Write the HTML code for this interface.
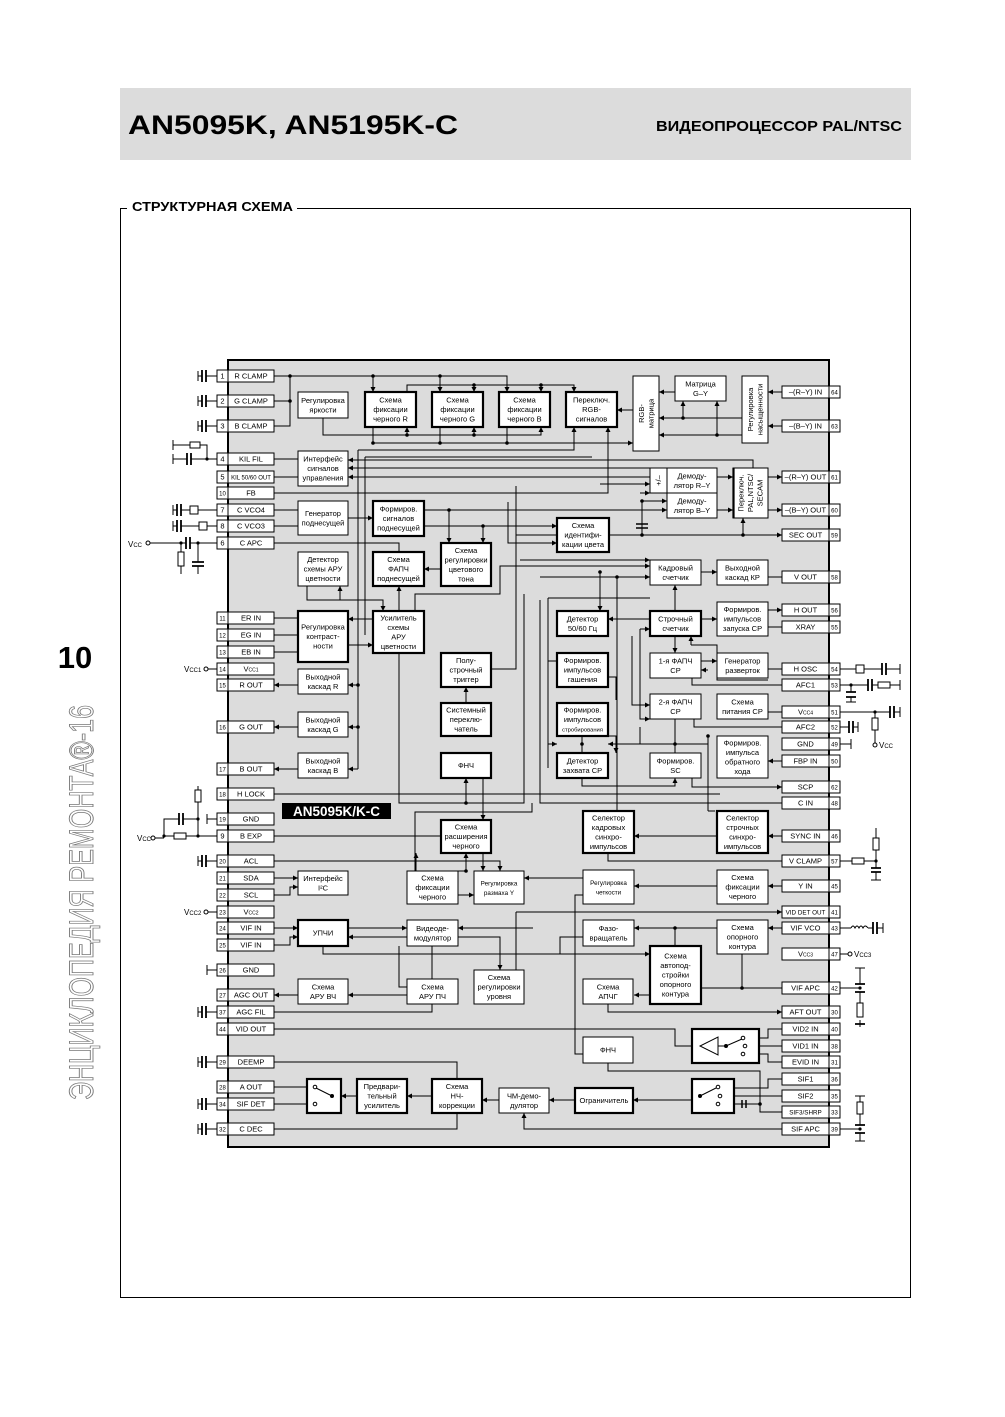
<!DOCTYPE html>
<html><head><meta charset="utf-8"><style>
html,body{margin:0;padding:0;background:#fff}
svg{display:block}
text{font-family:"Liberation Sans",sans-serif;font-size:7.5px;text-anchor:middle;fill:#000}
.b{fill:#fff;stroke:#000;stroke-width:1}
.t{fill:#fff;stroke:#000;stroke-width:2.2}
.w{fill:none;stroke:#000;stroke-width:1}
.p{fill:#fff;stroke:#000;stroke-width:1}
.pl{font-size:7px}
.c{fill:none;stroke:#000;stroke-width:2}
</style></head><body>
<svg width="1005" height="1417" viewBox="0 0 1005 1417" xmlns="http://www.w3.org/2000/svg">
<defs>
<marker id="a" markerWidth="6" markerHeight="6" refX="5" refY="3" orient="auto" markerUnits="userSpaceOnUse"><path d="M0,0.5 L5,3 L0,5.5z" fill="#000"/></marker>
</defs>
<rect x="120" y="88" width="791" height="72" fill="#dcdcdc"/>
<text x="128" y="134" style="font-size:27px;font-weight:bold;text-anchor:start" textLength="330" lengthAdjust="spacingAndGlyphs">AN5095K, AN5195K-C</text>
<text x="902" y="131" style="font-size:15px;font-weight:bold;text-anchor:end" textLength="246" lengthAdjust="spacingAndGlyphs">ВИДЕОПРОЦЕССОР PAL/NTSC</text>
<rect x="120.5" y="208.5" width="790" height="1089" fill="none" stroke="#000" stroke-width="1"/>
<rect x="127" y="196" width="170" height="18" fill="#fff"/>
<text x="132" y="211" style="font-size:13px;font-weight:bold;text-anchor:start" textLength="161" lengthAdjust="spacingAndGlyphs">СТРУКТУРНАЯ СХЕМА</text>
<text x="75" y="668" style="font-size:31px;font-weight:bold">10</text>
<text transform="translate(93,1100) rotate(-90)" style="font-size:34px;text-anchor:start;fill:none;stroke:#777;stroke-width:0.9" textLength="395" lengthAdjust="spacingAndGlyphs">ЭНЦИКЛОПЕДИЯ РЕМОНТА®-16</text>

<rect x="228" y="360" width="601" height="787" fill="#dcdcdc" stroke="#000" stroke-width="2"/>

<g class="w">
<path d="M274 376H507V392" marker-end="url(#a)"/>
<path d="M373 376V392" marker-end="url(#a)"/>
<path d="M440 376V392" marker-end="url(#a)"/>
<path d="M274 401H290M274 426H290V376"/>
<path d="M407 392V385H574V392" marker-end="url(#a)"/>
<path d="M474 385V392" marker-end="url(#a)"/>
<path d="M541 385V392" marker-end="url(#a)"/>
<path d="M323 418V435H541V427" marker-end="url(#a)"/>
<path d="M407 435V427" marker-end="url(#a)"/>
<path d="M474 435V427" marker-end="url(#a)"/>
<path d="M373 427V443H633" marker-end="url(#a)"/>
<path d="M440 427V443M507 427V443"/>
<path d="M633 410H617" marker-end="url(#a)"/>
<path d="M675 392H659" marker-end="url(#a)"/>
<path d="M742 418H659" marker-end="url(#a)"/>
<path d="M742 435H659" marker-end="url(#a)"/>
<path d="M683 418V401" marker-end="url(#a)"/>
<path d="M717 435V401" marker-end="url(#a)"/>
<path d="M782 392H768" marker-end="url(#a)"/>
<path d="M782 426H768" marker-end="url(#a)"/>
<path d="M358 450H574V427" marker-end="url(#a)"/>
<path d="M365 457H592"/>
<path d="M650 460H348" marker-end="url(#a)"/>
<path d="M650 468H348" marker-end="url(#a)"/>
<path d="M650 477H348" marker-end="url(#a)"/>
<path d="M753 468V460H650"/>
<path d="M274 459H298M274 477H298"/>
<path d="M274 493H608V427" marker-end="url(#a)"/>
<path d="M600 484H650" marker-end="url(#a)"/>
<path d="M640 493H650" marker-end="url(#a)"/>
<path d="M274 510H298M274 526H298"/>
<path d="M348 518H373" marker-end="url(#a)"/>
<path d="M424 510H449V543" marker-end="url(#a)"/>
<path d="M449 510H667" marker-end="url(#a)"/>
<path d="M424 526H483V543" marker-end="url(#a)"/>
<path d="M483 526H557" marker-end="url(#a)"/>
<path d="M516 486V535H557"/>
<path d="M508 502V543H557" marker-end="url(#a)"/>
<path d="M609 535H782" marker-end="url(#a)"/>
<path d="M743 535V518" marker-end="url(#a)"/>
<path d="M642 501V535M642 501H667" marker-end="url(#a)"/>
<path d="M717 477H733" marker-end="url(#a)"/>
<path d="M717 510H733" marker-end="url(#a)"/>
<path d="M768 477H782" marker-end="url(#a)"/>
<path d="M768 510H782" marker-end="url(#a)"/>
<path d="M274 543H399V552"/>
<path d="M441 569H424" marker-end="url(#a)"/>
<path d="M307 586V600H383V611" marker-end="url(#a)"/>
<path d="M340 600V586" marker-end="url(#a)"/>
<path d="M399 611V586" marker-end="url(#a)"/>
<path d="M415 611V594H500V566H650" marker-end="url(#a)"/>
<path d="M274 618H298M274 635H298M274 652H298"/>
<path d="M373 619H348" marker-end="url(#a)"/>
<path d="M348 645H373" marker-end="url(#a)"/>
<path d="M358 450V769"/>
<path d="M365 457V635"/>
<path d="M358 685H348" marker-end="url(#a)"/>
<path d="M358 727H348" marker-end="url(#a)"/>
<path d="M358 769H348" marker-end="url(#a)"/>
<path d="M298 685H274" marker-end="url(#a)"/>
<path d="M298 727H274" marker-end="url(#a)"/>
<path d="M298 769H274" marker-end="url(#a)"/>
<path d="M399 653V803H524V594"/>
<path d="M491 669H516V486"/>
<path d="M466 703V687" marker-end="url(#a)"/>
<path d="M466 803V778" marker-end="url(#a)"/>
<path d="M483 778V820" marker-end="url(#a)"/>
<path d="M274 794H720"/>
<path d="M274 836H441"/>
<path d="M274 861H500V871" marker-end="url(#a)"/>
<path d="M416 871V853" marker-end="url(#a)"/>
<path d="M466 871V853" marker-end="url(#a)"/>
<path d="M483 853V871" marker-end="url(#a)"/>
<path d="M458 871H466"/>
<path d="M458 895H474" marker-end="url(#a)"/>
<path d="M415 871V812H532V803"/>
<path d="M274 878H298" marker-end="url(#a)"/>
<path d="M274 895H290V887H298" marker-end="url(#a)"/>
<path d="M274 928H298" marker-end="url(#a)"/>
<path d="M274 945H290V937H298" marker-end="url(#a)"/>
<path d="M348 928H407" marker-end="url(#a)"/>
<path d="M407 937H348" marker-end="url(#a)"/>
<path d="M323 946V954H583"/>
<path d="M458 937H500V970" marker-end="url(#a)"/>
<path d="M516 912V970"/>
<path d="M516 912H782" marker-end="url(#a)"/>
<path d="M533 928H458" marker-end="url(#a)"/>
<path d="M432 946V979"/>
<path d="M399 946V987H407"/>
<path d="M407 995H348" marker-end="url(#a)"/>
<path d="M298 995H274" marker-end="url(#a)"/>
<path d="M274 1012H432V1004"/>
<path d="M274 1029H675V1046H692"/>
<path d="M274 1062H457V1079"/>
<path d="M274 1087H313"/>
<path d="M274 1104H313" marker-end="url(#a)"/>
<path d="M357 1096H341" marker-end="url(#a)"/>
<path d="M432 1096H407" marker-end="url(#a)"/>
<path d="M499 1100H482" marker-end="url(#a)"/>
<path d="M575 1100H549" marker-end="url(#a)"/>
<path d="M692 1100H633" marker-end="url(#a)"/>
<path d="M274 1129H457V1113"/>
<path d="M782 1129H524V1113" marker-end="url(#a)"/>
<path d="M520 560H650" marker-end="url(#a)"/>
<path d="M540 577H650" marker-end="url(#a)"/>
<path d="M600 572V611" marker-end="url(#a)"/>
<path d="M617 577V836"/>
<path d="M701 572H717" marker-end="url(#a)"/>
<path d="M768 577H782"/>
<path d="M675 611V585" marker-end="url(#a)"/>
<path d="M650 619H608" marker-end="url(#a)"/>
<path d="M640 629H650" marker-end="url(#a)"/>
<path d="M701 619H717" marker-end="url(#a)"/>
<path d="M768 610H782" marker-end="url(#a)"/>
<path d="M768 627H782"/>
<path d="M675 636V653" marker-end="url(#a)"/>
<path d="M691 645V636" marker-end="url(#a)"/>
<path d="M691 645H717V680H768"/>
<path d="M701 661H717" marker-end="url(#a)"/>
<path d="M768 669H782"/>
<path d="M708 670H701" marker-end="url(#a)"/>
<path d="M692 678V685H782"/>
<path d="M640 629V719H650" marker-end="url(#a)"/>
<path d="M632 636V705H650" marker-end="url(#a)"/>
<path d="M768 712H782"/>
<path d="M694 719V727H782"/>
<path d="M675 719V744"/>
<path d="M625 744H708V736"/>
<path d="M608 736H616V753" marker-end="url(#a)"/>
<path d="M640 727V744H608" marker-end="url(#a)"/>
<path d="M582 736V753"/>
<path d="M548 669V768"/>
<path d="M548 598V744H557" marker-end="url(#a)"/>
<path d="M548 598H650"/>
<path d="M557 661H548"/>
<path d="M608 677H616V700"/>
<path d="M675 744V753"/>
<path d="M782 761H768" marker-end="url(#a)"/>
<path d="M692 778V787H782" marker-end="url(#a)"/>
<path d="M582 778V786H675V778" marker-end="url(#a)"/>
<path d="M782 803H540V600"/>
<path d="M782 836H768" marker-end="url(#a)"/>
<path d="M717 836H634" marker-end="url(#a)"/>
<path d="M708 811V736"/>
<path d="M715 811H708"/>
<path d="M782 861H608V853"/>
<path d="M782 886H768" marker-end="url(#a)"/>
<path d="M717 886H634" marker-end="url(#a)"/>
<path d="M583 878H524" marker-end="url(#a)"/>
<path d="M583 895H575V1054H583"/>
<path d="M782 928H768" marker-end="url(#a)"/>
<path d="M675 928V946"/>
<path d="M717 928H634" marker-end="url(#a)"/>
<path d="M583 937H560V954"/>
<path d="M560 954H650" marker-end="url(#a)"/>
<path d="M742 954V988"/>
<path d="M782 988H701"/>
<path d="M650 995H634" marker-end="url(#a)"/>
<path d="M608 1004V1012H782" marker-end="url(#a)"/>
<path d="M608 1063V1071H760V1112H782"/>
<path d="M782 1029H768V1038H745"/>
<path d="M782 1046H745"/>
<path d="M782 1062H768V1054H745"/>
<path d="M782 1079H768V1088H720"/>
<path d="M782 1096H722"/>
<path d="M760 1104H720"/>
</g>
<g fill="#000">
<circle cx="290" cy="376" r="1.8"/><circle cx="290" cy="401" r="1.8"/><circle cx="373" cy="376" r="1.8"/><circle cx="440" cy="376" r="1.8"/>
<circle cx="474" cy="385" r="1.8"/><circle cx="541" cy="385" r="1.8"/><circle cx="407" cy="435" r="1.8"/><circle cx="474" cy="435" r="1.8"/>
<circle cx="373" cy="443" r="1.8"/><circle cx="440" cy="443" r="1.8"/><circle cx="507" cy="443" r="1.8"/><circle cx="683" cy="418" r="1.8"/><circle cx="717" cy="435" r="1.8"/>
<circle cx="449" cy="510" r="1.8"/><circle cx="483" cy="526" r="1.8"/><circle cx="743" cy="535" r="1.8"/><circle cx="642" cy="535" r="1.8"/><circle cx="642" cy="501" r="1.8"/>
<circle cx="358" cy="685" r="1.8"/><circle cx="358" cy="727" r="1.8"/><circle cx="466" cy="803" r="1.8"/><circle cx="466" cy="871" r="1.8"/>
<circle cx="600" cy="572" r="1.8"/><circle cx="617" cy="577" r="1.8"/><circle cx="675" cy="744" r="1.8"/><circle cx="582" cy="744" r="1.8"/><circle cx="708" cy="736" r="1.8"/>
<circle cx="675" cy="928" r="1.8"/><circle cx="742" cy="988" r="1.8"/><circle cx="760" cy="1104" r="1.8"/>
</g>
<path d="M636 524H648M636 528H648" stroke="#000" stroke-width="1.5"/>
<path d="M742 1100V1108M746 1100V1108" stroke="#000" stroke-width="1.5"/>

<rect class="b" x="298" y="392" width="50" height="26"/><text><tspan x="323" y="403">Регулировка</tspan><tspan x="323" y="412.5">яркости</tspan></text>
<rect class="t" x="365" y="392" width="51" height="35"/><text><tspan x="390.5" y="402.7">Схема</tspan><tspan x="390.5" y="412.2">фиксации</tspan><tspan x="390.5" y="421.7">черного R</tspan></text>
<rect class="t" x="432" y="392" width="51" height="35"/><text><tspan x="457.5" y="402.7">Схема</tspan><tspan x="457.5" y="412.2">фиксации</tspan><tspan x="457.5" y="421.7">черного G</tspan></text>
<rect class="t" x="499" y="392" width="51" height="35"/><text><tspan x="524.5" y="402.7">Схема</tspan><tspan x="524.5" y="412.2">фиксации</tspan><tspan x="524.5" y="421.7">черного B</tspan></text>
<rect class="t" x="566" y="392" width="51" height="35"/><text><tspan x="591.5" y="402.7">Переключ.</tspan><tspan x="591.5" y="412.2">RGB-</tspan><tspan x="591.5" y="421.7">сигналов</tspan></text>
<rect class="b" x="633" y="376" width="26" height="75"/><text transform="rotate(-90 646 413.5)"><tspan x="646" y="411.5">RGB-</tspan><tspan x="646" y="421">матрица</tspan></text>
<rect class="b" x="675" y="376" width="51" height="25"/><text><tspan x="700.5" y="386.5">Матрица</tspan><tspan x="700.5" y="396">G–Y</tspan></text>
<rect class="b" x="742" y="376" width="26" height="67"/><text transform="rotate(-90 755 409.5)"><tspan x="755" y="407.5">Регулировка</tspan><tspan x="755" y="417">насыщенности</tspan></text>
<rect class="b" x="298" y="451" width="50" height="35"/><text><tspan x="323" y="461.7">Интерфейс</tspan><tspan x="323" y="471.2">сигналов</tspan><tspan x="323" y="480.7">управления</tspan></text>
<rect class="b" x="298" y="501" width="50" height="34"/><text><tspan x="323" y="516">Генератор</tspan><tspan x="323" y="525.5">поднесущей</tspan></text>
<rect class="t" x="373" y="501" width="51" height="35"/><text><tspan x="398.5" y="511.7">Формиров.</tspan><tspan x="398.5" y="521.2">сигналов</tspan><tspan x="398.5" y="530.7">поднесущей</tspan></text>
<rect class="b" x="298" y="552" width="50" height="34"/><text><tspan x="323" y="562.2">Детектор</tspan><tspan x="323" y="571.7">схемы АРУ</tspan><tspan x="323" y="581.2">цветности</tspan></text>
<rect class="t" x="373" y="552" width="51" height="34"/><text><tspan x="398.5" y="562.2">Схема</tspan><tspan x="398.5" y="571.7">ФАПЧ</tspan><tspan x="398.5" y="581.2">поднесущей</tspan></text>
<rect class="t" x="441" y="543" width="50" height="43"/><text><tspan x="466" y="553">Схема</tspan><tspan x="466" y="562.5">регулировки</tspan><tspan x="466" y="572">цветового</tspan><tspan x="466" y="581.5">тона</tspan></text>
<rect class="t" x="298" y="611" width="50" height="51"/><text><tspan x="323" y="629.7">Регулировка</tspan><tspan x="323" y="639.2">контраст-</tspan><tspan x="323" y="648.7">ности</tspan></text>
<rect class="t" x="373" y="611" width="51" height="42"/><text><tspan x="398.5" y="620.5">Усилитель</tspan><tspan x="398.5" y="630">схемы</tspan><tspan x="398.5" y="639.5">АРУ</tspan><tspan x="398.5" y="649">цветности</tspan></text>
<rect class="t" x="441" y="653" width="50" height="34"/><text><tspan x="466" y="663.2">Полу-</tspan><tspan x="466" y="672.7">строчный</tspan><tspan x="466" y="682.2">триггер</tspan></text>
<rect class="b" x="298" y="669" width="50" height="25"/><text><tspan x="323" y="679.5">Выходной</tspan><tspan x="323" y="689">каскад R</tspan></text>
<rect class="b" x="298" y="712" width="50" height="25"/><text><tspan x="323" y="722.5">Выходной</tspan><tspan x="323" y="732">каскад G</tspan></text>
<rect class="b" x="298" y="753" width="50" height="25"/><text><tspan x="323" y="763.5">Выходной</tspan><tspan x="323" y="773">каскад B</tspan></text>
<rect class="t" x="441" y="703" width="50" height="33"/><text><tspan x="466" y="712.7">Системный</tspan><tspan x="466" y="722.2">переклю-</tspan><tspan x="466" y="731.7">чатель</tspan></text>
<rect class="t" x="441" y="753" width="50" height="25"/><text x="466" y="768.2">ФНЧ</text>
<rect x="282" y="803" width="109" height="16" fill="#000"/><text x="336.5" y="816" style="font-size:13.5px;font-weight:bold;fill:#fff">AN5095K/K-C</text>
<rect class="t" x="441" y="820" width="50" height="33"/><text><tspan x="466" y="829.7">Схема</tspan><tspan x="466" y="839.2">расширения</tspan><tspan x="466" y="848.7">черного</tspan></text>
<rect class="b" x="298" y="871" width="50" height="24"/><text><tspan x="323" y="881">Интерфейс</tspan><tspan x="323" y="890.5">I²C</tspan></text>
<rect class="b" x="407" y="871" width="51" height="33"/><text><tspan x="432.5" y="880.7">Схема</tspan><tspan x="432.5" y="890.2">фиксации</tspan><tspan x="432.5" y="899.7">черного</tspan></text>
<rect class="b" x="474" y="871" width="50" height="33"/><text style="font-size:6.3px"><tspan x="499" y="885.5">Регулировка</tspan><tspan x="499" y="895">размаха Y</tspan></text>
<rect class="t" x="298" y="920" width="50" height="26"/><text x="323" y="935.7">УПЧИ</text>
<rect class="b" x="407" y="920" width="51" height="26"/><text><tspan x="432.5" y="931">Видеоде-</tspan><tspan x="432.5" y="940.5">модулятор</tspan></text>
<rect class="b" x="474" y="970" width="50" height="34"/><text><tspan x="499" y="980.2">Схема</tspan><tspan x="499" y="989.7">регулировки</tspan><tspan x="499" y="999.2">уровня</tspan></text>
<rect class="b" x="298" y="979" width="50" height="25"/><text><tspan x="323" y="989.5">Схема</tspan><tspan x="323" y="999">АРУ ВЧ</tspan></text>
<rect class="b" x="407" y="979" width="51" height="25"/><text><tspan x="432.5" y="989.5">Схема</tspan><tspan x="432.5" y="999">АРУ ПЧ</tspan></text>
<rect class="t" x="307" y="1079" width="34" height="34"/>
<g class="w"><circle cx="315" cy="1087" r="1.8"/><circle cx="315" cy="1104" r="1.8"/><path d="M316 1088L332 1096"/></g><circle cx="332" cy="1096" r="2" fill="#000"/>
<rect class="t" x="357" y="1079" width="50" height="34"/><text><tspan x="382" y="1089.2">Предвари-</tspan><tspan x="382" y="1098.7">тельный</tspan><tspan x="382" y="1108.2">усилитель</tspan></text>
<rect class="t" x="432" y="1079" width="50" height="34"/><text><tspan x="457" y="1089.2">Схема</tspan><tspan x="457" y="1098.7">НЧ-</tspan><tspan x="457" y="1108.2">коррекции</tspan></text>
<rect class="b" x="499" y="1088" width="50" height="25"/><text><tspan x="524" y="1098.5">ЧМ-демо-</tspan><tspan x="524" y="1108">дулятор</tspan></text>
<rect class="t" x="575" y="1088" width="58" height="25"/><text x="604" y="1103.2">Ограничитель</text>
<rect class="t" x="692" y="1079" width="42" height="34"/>
<g class="w"><circle cx="718" cy="1087" r="1.8"/><circle cx="720" cy="1096" r="1.8"/><circle cx="718" cy="1104" r="1.8"/><path d="M700 1096L716 1088"/></g><circle cx="700" cy="1096" r="2" fill="#000"/>
<rect class="t" x="692" y="1029" width="67" height="34"/>
<g class="w"><path d="M718 1037V1055L700 1046Z"/><path d="M718 1046H726L742 1039"/><circle cx="743" cy="1038" r="1.8"/><circle cx="745" cy="1046" r="1.8"/><circle cx="743" cy="1054" r="1.8"/></g><circle cx="726" cy="1046" r="2" fill="#000"/>
<rect class="b" x="583" y="1037" width="50" height="26"/><text x="608" y="1052.7">ФНЧ</text>
<rect class="b" x="583" y="979" width="50" height="25"/><text><tspan x="608" y="989.5">Схема</tspan><tspan x="608" y="999">АПЧГ</tspan></text>
<rect class="t" x="650" y="946" width="51" height="58"/><text><tspan x="675.5" y="958.7">Схема</tspan><tspan x="675.5" y="968.2">автопод-</tspan><tspan x="675.5" y="977.7">стройки</tspan><tspan x="675.5" y="987.2">опорного</tspan><tspan x="675.5" y="996.7">контура</tspan></text>
<rect class="b" x="583" y="920" width="51" height="26"/><text><tspan x="608.5" y="931">Фазо-</tspan><tspan x="608.5" y="940.5">вращатель</tspan></text>
<rect class="b" x="717" y="920" width="51" height="34"/><text><tspan x="742.5" y="930.2">Схема</tspan><tspan x="742.5" y="939.7">опорного</tspan><tspan x="742.5" y="949.2">контура</tspan></text>
<rect class="b" x="583" y="870" width="51" height="34"/><text style="font-size:6.3px"><tspan x="608.5" y="885">Регулировка</tspan><tspan x="608.5" y="894.5">четкости</tspan></text>
<rect class="b" x="717" y="870" width="51" height="34"/><text><tspan x="742.5" y="880.2">Схема</tspan><tspan x="742.5" y="889.7">фиксации</tspan><tspan x="742.5" y="899.2">черного</tspan></text>
<rect class="t" x="583" y="811" width="51" height="42"/><text><tspan x="608.5" y="820.5">Селектор</tspan><tspan x="608.5" y="830">кадровых</tspan><tspan x="608.5" y="839.5">синхро-</tspan><tspan x="608.5" y="849">импульсов</tspan></text>
<rect class="t" x="717" y="811" width="51" height="42"/><text><tspan x="742.5" y="820.5">Селектор</tspan><tspan x="742.5" y="830">строчных</tspan><tspan x="742.5" y="839.5">синхро-</tspan><tspan x="742.5" y="849">импульсов</tspan></text>
<rect class="t" x="557" y="753" width="51" height="25"/><text><tspan x="582.5" y="763.5">Детектор</tspan><tspan x="582.5" y="773">захвата СР</tspan></text>
<rect class="b" x="650" y="753" width="51" height="25"/><text><tspan x="675.5" y="763.5">Формиров.</tspan><tspan x="675.5" y="773">SC</tspan></text>
<rect class="b" x="717" y="736" width="51" height="42"/><text><tspan x="742.5" y="745.5">Формиров.</tspan><tspan x="742.5" y="755">импульса</tspan><tspan x="742.5" y="764.5">обратного</tspan><tspan x="742.5" y="774">хода</tspan></text>
<rect class="t" x="557" y="703" width="51" height="33"/><text><tspan x="582.5" y="712.7">Формиров.</tspan><tspan x="582.5" y="722.2">импульсов</tspan><tspan x="582.5" y="731.7" style="font-size:5.8px">стробирования</tspan></text>
<rect class="b" x="650" y="694" width="51" height="25"/><text><tspan x="675.5" y="704.5">2-я ФАПЧ</tspan><tspan x="675.5" y="714">СР</tspan></text>
<rect class="b" x="717" y="694" width="51" height="25"/><text><tspan x="742.5" y="704.5">Схема</tspan><tspan x="742.5" y="714">питания СР</tspan></text>
<rect class="t" x="557" y="518" width="52" height="34"/><text><tspan x="583" y="528.2">Схема</tspan><tspan x="583" y="537.7">идентифи-</tspan><tspan x="583" y="547.2">кации цвета</tspan></text>
<rect class="b" x="650" y="468" width="17" height="25"/><text transform="rotate(-90 658.5 480.5)" x="658.5" y="483.2">+/–</text>
<rect class="b" x="667" y="468" width="50" height="25"/><text><tspan x="692" y="478.5">Демоду-</tspan><tspan x="692" y="488">лятор R–Y</tspan></text>
<rect class="b" x="667" y="493" width="50" height="25"/><text><tspan x="692" y="503.5">Демоду-</tspan><tspan x="692" y="513">лятор B–Y</tspan></text>
<rect class="b" x="733" y="468" width="35" height="50"/><path d="M733.5 468V518" stroke="#000" stroke-width="2.2"/><text transform="rotate(-90 750.5 493)"><tspan x="750.5" y="486.2">Переключ.</tspan><tspan x="750.5" y="495.7">PAL,NTSC/</tspan><tspan x="750.5" y="505.2">SECAM</tspan></text>
<rect class="b" x="650" y="560" width="51" height="25"/><text><tspan x="675.5" y="570.5">Кадровый</tspan><tspan x="675.5" y="580">счетчик</tspan></text>
<rect class="b" x="717" y="560" width="51" height="25"/><text><tspan x="742.5" y="570.5">Выходной</tspan><tspan x="742.5" y="580">каскад КР</tspan></text>
<rect class="t" x="557" y="611" width="51" height="25"/><text><tspan x="582.5" y="621.5">Детектор</tspan><tspan x="582.5" y="631">50/60 Гц</tspan></text>
<rect class="t" x="650" y="611" width="51" height="25"/><text><tspan x="675.5" y="621.5">Строчный</tspan><tspan x="675.5" y="631">счетчик</tspan></text>
<rect class="b" x="717" y="602" width="51" height="34"/><text><tspan x="742.5" y="612.2">Формиров.</tspan><tspan x="742.5" y="621.7">импульсов</tspan><tspan x="742.5" y="631.2">запуска СР</tspan></text>
<rect class="b" x="650" y="653" width="51" height="25"/><text><tspan x="675.5" y="663.5">1-я ФАПЧ</tspan><tspan x="675.5" y="673">СР</tspan></text>
<rect class="b" x="717" y="653" width="51" height="25"/><text><tspan x="742.5" y="663.5">Генератор</tspan><tspan x="742.5" y="673">разверток</tspan></text>
<rect class="t" x="557" y="653" width="51" height="34"/><text><tspan x="582.5" y="663.2">Формиров.</tspan><tspan x="582.5" y="672.7">импульсов</tspan><tspan x="582.5" y="682.2">гашения</tspan></text>

<g class="pl">
<rect class="p" x="217" y="370" width="11" height="12"/><rect class="p" x="228" y="370" width="46" height="12"/><text x="222.5" y="378.5">1</text><text x="251" y="378.5">R CLAMP</text>
<rect class="p" x="217" y="395" width="11" height="12"/><rect class="p" x="228" y="395" width="46" height="12"/><text x="222.5" y="403.5">2</text><text x="251" y="403.5">G CLAMP</text>
<rect class="p" x="217" y="420" width="11" height="12"/><rect class="p" x="228" y="420" width="46" height="12"/><text x="222.5" y="428.5">3</text><text x="251" y="428.5">B CLAMP</text>
<rect class="p" x="217" y="453" width="11" height="12"/><rect class="p" x="228" y="453" width="46" height="12"/><text x="222.5" y="461.5">4</text><text x="251" y="461.5">KIL FIL</text>
<rect class="p" x="217" y="471" width="11" height="12"/><rect class="p" x="228" y="471" width="46" height="12"/><text x="222.5" y="479.5">5</text><text x="251" y="479.5" style="font-size:6px">KIL 50/60 OUT</text>
<rect class="p" x="217" y="487" width="11" height="12"/><rect class="p" x="228" y="487" width="46" height="12"/><text x="222.5" y="495.5" style="font-size:6px">10</text><text x="251" y="495.5">FB</text>
<rect class="p" x="217" y="504" width="11" height="12"/><rect class="p" x="228" y="504" width="46" height="12"/><text x="222.5" y="512.5">7</text><text x="251" y="512.5">C VCO4</text>
<rect class="p" x="217" y="520" width="11" height="12"/><rect class="p" x="228" y="520" width="46" height="12"/><text x="222.5" y="528.5">8</text><text x="251" y="528.5">C VCO3</text>
<rect class="p" x="217" y="537" width="11" height="12"/><rect class="p" x="228" y="537" width="46" height="12"/><text x="222.5" y="545.5">6</text><text x="251" y="545.5">C APC</text>
<rect class="p" x="217" y="612" width="11" height="12"/><rect class="p" x="228" y="612" width="46" height="12"/><text x="222.5" y="620.5" style="font-size:6px">11</text><text x="251" y="620.5">ER IN</text>
<rect class="p" x="217" y="629" width="11" height="12"/><rect class="p" x="228" y="629" width="46" height="12"/><text x="222.5" y="637.5" style="font-size:6px">12</text><text x="251" y="637.5">EG IN</text>
<rect class="p" x="217" y="646" width="11" height="12"/><rect class="p" x="228" y="646" width="46" height="12"/><text x="222.5" y="654.5" style="font-size:6px">13</text><text x="251" y="654.5">EB IN</text>
<rect class="p" x="217" y="663" width="11" height="12"/><rect class="p" x="228" y="663" width="46" height="12"/><text x="222.5" y="671.5" style="font-size:6px">14</text><text x="251" y="671.5">V<tspan style="font-size:5px">CC1</tspan></text>
<rect class="p" x="217" y="679" width="11" height="12"/><rect class="p" x="228" y="679" width="46" height="12"/><text x="222.5" y="687.5" style="font-size:6px">15</text><text x="251" y="687.5">R OUT</text>
<rect class="p" x="217" y="721" width="11" height="12"/><rect class="p" x="228" y="721" width="46" height="12"/><text x="222.5" y="729.5" style="font-size:6px">16</text><text x="251" y="729.5">G OUT</text>
<rect class="p" x="217" y="763" width="11" height="12"/><rect class="p" x="228" y="763" width="46" height="12"/><text x="222.5" y="771.5" style="font-size:6px">17</text><text x="251" y="771.5">B OUT</text>
<rect class="p" x="217" y="788" width="11" height="12"/><rect class="p" x="228" y="788" width="46" height="12"/><text x="222.5" y="796.5" style="font-size:6px">18</text><text x="251" y="796.5">H LOCK</text>
<rect class="p" x="217" y="813" width="11" height="12"/><rect class="p" x="228" y="813" width="46" height="12"/><text x="222.5" y="821.5" style="font-size:6px">19</text><text x="251" y="821.5">GND</text>
<rect class="p" x="217" y="830" width="11" height="12"/><rect class="p" x="228" y="830" width="46" height="12"/><text x="222.5" y="838.5">9</text><text x="251" y="838.5">B EXP</text>
<rect class="p" x="217" y="855" width="11" height="12"/><rect class="p" x="228" y="855" width="46" height="12"/><text x="222.5" y="863.5" style="font-size:6px">20</text><text x="251" y="863.5">ACL</text>
<rect class="p" x="217" y="872" width="11" height="12"/><rect class="p" x="228" y="872" width="46" height="12"/><text x="222.5" y="880.5" style="font-size:6px">21</text><text x="251" y="880.5">SDA</text>
<rect class="p" x="217" y="889" width="11" height="12"/><rect class="p" x="228" y="889" width="46" height="12"/><text x="222.5" y="897.5" style="font-size:6px">22</text><text x="251" y="897.5">SCL</text>
<rect class="p" x="217" y="906" width="11" height="12"/><rect class="p" x="228" y="906" width="46" height="12"/><text x="222.5" y="914.5" style="font-size:6px">23</text><text x="251" y="914.5">V<tspan style="font-size:5px">CC2</tspan></text>
<rect class="p" x="217" y="922" width="11" height="12"/><rect class="p" x="228" y="922" width="46" height="12"/><text x="222.5" y="930.5" style="font-size:6px">24</text><text x="251" y="930.5">VIF IN</text>
<rect class="p" x="217" y="939" width="11" height="12"/><rect class="p" x="228" y="939" width="46" height="12"/><text x="222.5" y="947.5" style="font-size:6px">25</text><text x="251" y="947.5">VIF IN</text>
<rect class="p" x="217" y="964" width="11" height="12"/><rect class="p" x="228" y="964" width="46" height="12"/><text x="222.5" y="972.5" style="font-size:6px">26</text><text x="251" y="972.5">GND</text>
<rect class="p" x="217" y="989" width="11" height="12"/><rect class="p" x="228" y="989" width="46" height="12"/><text x="222.5" y="997.5" style="font-size:6px">27</text><text x="251" y="997.5">AGC OUT</text>
<rect class="p" x="217" y="1006" width="11" height="12"/><rect class="p" x="228" y="1006" width="46" height="12"/><text x="222.5" y="1014.5" style="font-size:6px">37</text><text x="251" y="1014.5">AGC FIL</text>
<rect class="p" x="217" y="1023" width="11" height="12"/><rect class="p" x="228" y="1023" width="46" height="12"/><text x="222.5" y="1031.5" style="font-size:6px">44</text><text x="251" y="1031.5">VID OUT</text>
<rect class="p" x="217" y="1056" width="11" height="12"/><rect class="p" x="228" y="1056" width="46" height="12"/><text x="222.5" y="1064.5" style="font-size:6px">29</text><text x="251" y="1064.5">DEEMP</text>
<rect class="p" x="217" y="1081" width="11" height="12"/><rect class="p" x="228" y="1081" width="46" height="12"/><text x="222.5" y="1089.5" style="font-size:6px">28</text><text x="251" y="1089.5">A OUT</text>
<rect class="p" x="217" y="1098" width="11" height="12"/><rect class="p" x="228" y="1098" width="46" height="12"/><text x="222.5" y="1106.5" style="font-size:6px">34</text><text x="251" y="1106.5">SIF DET</text>
<rect class="p" x="217" y="1123" width="11" height="12"/><rect class="p" x="228" y="1123" width="46" height="12"/><text x="222.5" y="1131.5" style="font-size:6px">32</text><text x="251" y="1131.5">C DEC</text>
</g>
<g class="pl">
<rect class="p" x="782" y="386" width="47" height="12"/><rect class="p" x="829" y="386" width="11" height="12"/><text x="805.5" y="394.5">–(R–Y) IN</text><text x="834.5" y="394.5" style="font-size:6px">64</text>
<rect class="p" x="782" y="420" width="47" height="12"/><rect class="p" x="829" y="420" width="11" height="12"/><text x="805.5" y="428.5">–(B–Y) IN</text><text x="834.5" y="428.5" style="font-size:6px">63</text>
<rect class="p" x="782" y="471" width="47" height="12"/><rect class="p" x="829" y="471" width="11" height="12"/><text x="805.5" y="479.5">–(R–Y) OUT</text><text x="834.5" y="479.5" style="font-size:6px">61</text>
<rect class="p" x="782" y="504" width="47" height="12"/><rect class="p" x="829" y="504" width="11" height="12"/><text x="805.5" y="512.5">–(B–Y) OUT</text><text x="834.5" y="512.5" style="font-size:6px">60</text>
<rect class="p" x="782" y="529" width="47" height="12"/><rect class="p" x="829" y="529" width="11" height="12"/><text x="805.5" y="537.5">SEC OUT</text><text x="834.5" y="537.5" style="font-size:6px">59</text>
<rect class="p" x="782" y="571" width="47" height="12"/><rect class="p" x="829" y="571" width="11" height="12"/><text x="805.5" y="579.5">V OUT</text><text x="834.5" y="579.5" style="font-size:6px">58</text>
<rect class="p" x="782" y="604" width="47" height="12"/><rect class="p" x="829" y="604" width="11" height="12"/><text x="805.5" y="612.5">H OUT</text><text x="834.5" y="612.5" style="font-size:6px">56</text>
<rect class="p" x="782" y="621" width="47" height="12"/><rect class="p" x="829" y="621" width="11" height="12"/><text x="805.5" y="629.5">XRAY</text><text x="834.5" y="629.5" style="font-size:6px">55</text>
<rect class="p" x="782" y="663" width="47" height="12"/><rect class="p" x="829" y="663" width="11" height="12"/><text x="805.5" y="671.5">H OSC</text><text x="834.5" y="671.5" style="font-size:6px">54</text>
<rect class="p" x="782" y="679" width="47" height="12"/><rect class="p" x="829" y="679" width="11" height="12"/><text x="805.5" y="687.5">AFC1</text><text x="834.5" y="687.5" style="font-size:6px">53</text>
<rect class="p" x="782" y="706" width="47" height="12"/><rect class="p" x="829" y="706" width="11" height="12"/><text x="805.5" y="714.5">V<tspan style="font-size:5px">CC4</tspan></text><text x="834.5" y="714.5" style="font-size:6px">51</text>
<rect class="p" x="782" y="721" width="47" height="12"/><rect class="p" x="829" y="721" width="11" height="12"/><text x="805.5" y="729.5">AFC2</text><text x="834.5" y="729.5" style="font-size:6px">52</text>
<rect class="p" x="782" y="738" width="47" height="12"/><rect class="p" x="829" y="738" width="11" height="12"/><text x="805.5" y="746.5">GND</text><text x="834.5" y="746.5" style="font-size:6px">49</text>
<rect class="p" x="782" y="755" width="47" height="12"/><rect class="p" x="829" y="755" width="11" height="12"/><text x="805.5" y="763.5">FBP IN</text><text x="834.5" y="763.5" style="font-size:6px">50</text>
<rect class="p" x="782" y="781" width="47" height="12"/><rect class="p" x="829" y="781" width="11" height="12"/><text x="805.5" y="789.5">SCP</text><text x="834.5" y="789.5" style="font-size:6px">62</text>
<rect class="p" x="782" y="797" width="47" height="12"/><rect class="p" x="829" y="797" width="11" height="12"/><text x="805.5" y="805.5">C IN</text><text x="834.5" y="805.5" style="font-size:6px">48</text>
<rect class="p" x="782" y="830" width="47" height="12"/><rect class="p" x="829" y="830" width="11" height="12"/><text x="805.5" y="838.5">SYNC IN</text><text x="834.5" y="838.5" style="font-size:6px">46</text>
<rect class="p" x="782" y="855" width="47" height="12"/><rect class="p" x="829" y="855" width="11" height="12"/><text x="805.5" y="863.5">V CLAMP</text><text x="834.5" y="863.5" style="font-size:6px">57</text>
<rect class="p" x="782" y="880" width="47" height="12"/><rect class="p" x="829" y="880" width="11" height="12"/><text x="805.5" y="888.5">Y IN</text><text x="834.5" y="888.5" style="font-size:6px">45</text>
<rect class="p" x="782" y="906" width="47" height="12"/><rect class="p" x="829" y="906" width="11" height="12"/><text x="805.5" y="914.5" style="font-size:6.3px">VID DET OUT</text><text x="834.5" y="914.5" style="font-size:6px">41</text>
<rect class="p" x="782" y="922" width="47" height="12"/><rect class="p" x="829" y="922" width="11" height="12"/><text x="805.5" y="930.5">VIF VCO</text><text x="834.5" y="930.5" style="font-size:6px">43</text>
<rect class="p" x="782" y="948" width="47" height="12"/><rect class="p" x="829" y="948" width="11" height="12"/><text x="805.5" y="956.5">V<tspan style="font-size:5px">CC3</tspan></text><text x="834.5" y="956.5" style="font-size:6px">47</text>
<rect class="p" x="782" y="982" width="47" height="12"/><rect class="p" x="829" y="982" width="11" height="12"/><text x="805.5" y="990.5">VIF APC</text><text x="834.5" y="990.5" style="font-size:6px">42</text>
<rect class="p" x="782" y="1006" width="47" height="12"/><rect class="p" x="829" y="1006" width="11" height="12"/><text x="805.5" y="1014.5">AFT OUT</text><text x="834.5" y="1014.5" style="font-size:6px">30</text>
<rect class="p" x="782" y="1023" width="47" height="12"/><rect class="p" x="829" y="1023" width="11" height="12"/><text x="805.5" y="1031.5">VID2 IN</text><text x="834.5" y="1031.5" style="font-size:6px">40</text>
<rect class="p" x="782" y="1040" width="47" height="12"/><rect class="p" x="829" y="1040" width="11" height="12"/><text x="805.5" y="1048.5">VID1 IN</text><text x="834.5" y="1048.5" style="font-size:6px">38</text>
<rect class="p" x="782" y="1056" width="47" height="12"/><rect class="p" x="829" y="1056" width="11" height="12"/><text x="805.5" y="1064.5">EVID IN</text><text x="834.5" y="1064.5" style="font-size:6px">31</text>
<rect class="p" x="782" y="1073" width="47" height="12"/><rect class="p" x="829" y="1073" width="11" height="12"/><text x="805.5" y="1081.5">SIF1</text><text x="834.5" y="1081.5" style="font-size:6px">36</text>
<rect class="p" x="782" y="1090" width="47" height="12"/><rect class="p" x="829" y="1090" width="11" height="12"/><text x="805.5" y="1098.5">SIF2</text><text x="834.5" y="1098.5" style="font-size:6px">35</text>
<rect class="p" x="782" y="1106" width="47" height="12"/><rect class="p" x="829" y="1106" width="11" height="12"/><text x="805.5" y="1114.5" style="font-size:6.3px">SIF3/SHRP</text><text x="834.5" y="1114.5" style="font-size:6px">33</text>
<rect class="p" x="782" y="1123" width="47" height="12"/><rect class="p" x="829" y="1123" width="11" height="12"/><text x="805.5" y="1131.5">SIF APC</text><text x="834.5" y="1131.5" style="font-size:6px">39</text>
</g>

<g class="w">
<path d="M198 371V381M198 376H202M206 376H217M198 396V406M198 401H202M206 401H217M198 421V431M198 426H202M206 426H217"/>
<path d="M198 856V866M198 861H202M206 861H217M198 1057V1067M198 1062H202M206 1062H217M198 1099V1109M198 1104H202M206 1104H217M198 1124V1134M198 1129H202M206 1129H217M198 1007V1017M198 1012H202M206 1012H217"/>
<path d="M173 440V450M173 445H190M200 445H207V459M173 454V464M173 459H187M191 459H217"/>
<rect x="190" y="442" width="10" height="6" fill="#fff"/>
<path d="M173 505V515M173 510H177M181 510H190M198 510H217M173 521V531M173 526H177M181 526H199M207 526H217"/>
<rect x="190" y="506" width="8" height="8" fill="#fff"/><rect x="199" y="522" width="8" height="8" fill="#fff"/>
<path d="M150 543H186M190 543H217M181 543V552M181 566V574M198 543V562M198 566V574"/>
<rect x="178" y="552" width="6" height="14" fill="#fff"/>
<circle cx="148" cy="543" r="2" fill="#fff"/>
<circle cx="206" cy="669" r="2" fill="#fff"/><path d="M208 669H217"/>
<circle cx="206" cy="912" r="2" fill="#fff"/><path d="M208 912H217"/>
<path d="M207 814V824M207 819H217M207 965V975M207 970H217"/>
<path d="M198 786V790M198 800V836M198 819V836"/><rect x="195" y="790" width="6" height="12" fill="#fff"/>
<path d="M164 836H174M186 836H217M164 836V819H179M183 819H198"/><rect x="174" y="833" width="12" height="6" fill="#fff"/>
<circle cx="153" cy="838" r="2" fill="#fff"/><path d="M155 838H164"/>
</g>
<g stroke="#000" stroke-width="1.8">
<path d="M202 370V382M206 370V382M202 395V407M206 395V407M202 420V432M206 420V432M202 855V867M206 855V867M202 1056V1068M206 1056V1068M202 1098V1110M206 1098V1110M202 1123V1135M206 1123V1135M202 1006V1018M206 1006V1018"/>
<path d="M187 453V465M191 453V465M177 504V516M181 504V516M177 520V532M181 520V532M186 537V549M190 537V549M192 562H204M192 566H204M179 813V825M183 813V825"/>
</g>
<g fill="#000"><circle cx="207" cy="459" r="1.6"/><circle cx="181" cy="543" r="1.6"/><circle cx="198" cy="543" r="1.6"/><circle cx="198" cy="819" r="1.6"/><circle cx="198" cy="836" r="1.6"/><circle cx="164" cy="836" r="1.6"/></g>
<text x="128" y="547" style="text-anchor:start;font-size:8px">V<tspan style="font-size:6px">CC</tspan></text>
<text x="184" y="672" style="text-anchor:start;font-size:8px">V<tspan style="font-size:6px">CC1</tspan></text>
<text x="137" y="841" style="text-anchor:start;font-size:8px">V<tspan style="font-size:6px">CC</tspan></text>
<text x="184" y="915" style="text-anchor:start;font-size:8px">V<tspan style="font-size:6px">CC2</tspan></text>

<g class="w">
<path d="M840 669H856M864 669H882M886 669H900M900 664V674"/><rect x="856" y="665" width="8" height="8" fill="#fff"/>
<path d="M840 685H868M872 685H878M890 685H900M900 680V690M851 685V692M851 697V702M846 702H856"/><rect x="878" y="682" width="12" height="6" fill="#fff"/>
<path d="M840 712H890M894 712H900M900 707V717M875 712V718M875 730V743"/><rect x="872" y="718" width="6" height="12" fill="#fff"/><circle cx="875" cy="745" r="2" fill="#fff"/>
<path d="M840 727H849M853 727H858M858 722V732"/>
<path d="M840 744H851M851 739V749"/>
<path d="M840 861H852M864 861H876M876 828V838M876 850V868M876 872V880M871 880H881"/><rect x="852" y="858" width="12" height="6" fill="#fff"/><rect x="873" y="838" width="6" height="12" fill="#fff"/>
<path d="M840 928H851M868 928H873M877 928H883M883 923V933"/><path d="M851 928Q853 924 855 928Q857 924 859 928Q861 924 863 928Q865 924 868 928"/>
<path d="M840 954H848"/><circle cx="850" cy="954" r="2" fill="#fff"/>
<path d="M840 988H860M860 968V984M860 992V1003M860 1020V1027M855 968H865"/><rect x="857" y="1003" width="6" height="14" fill="#fff"/>
<path d="M840 1129H860M860 1096V1102M860 1114V1125M860 1133V1141M855 1141H865M855 1096H865"/><rect x="857" y="1102" width="6" height="12" fill="#fff"/>
</g>
<g stroke="#000" stroke-width="1.8">
<path d="M882 663V675M886 663V675M868 679V691M872 679V691M846 692H856M846 697H856M890 706V718M894 706V718M849 721V733M853 721V733M871 868H881M871 872H881M873 922V934M877 922V934M855 984H865M855 992H865M855 1125H865M855 1133H865M855 1024H865"/>
</g>
<g fill="#000"><circle cx="851" cy="685" r="1.6"/><circle cx="875" cy="712" r="1.6"/><circle cx="876" cy="861" r="1.6"/><circle cx="860" cy="988" r="1.6"/><circle cx="860" cy="1129" r="1.6"/></g>
<text x="879" y="748" style="text-anchor:start;font-size:8px">V<tspan style="font-size:6px">CC</tspan></text>
<text x="854" y="957" style="text-anchor:start;font-size:8px">V<tspan style="font-size:6px">CC3</tspan></text>
</svg>
</body></html>
